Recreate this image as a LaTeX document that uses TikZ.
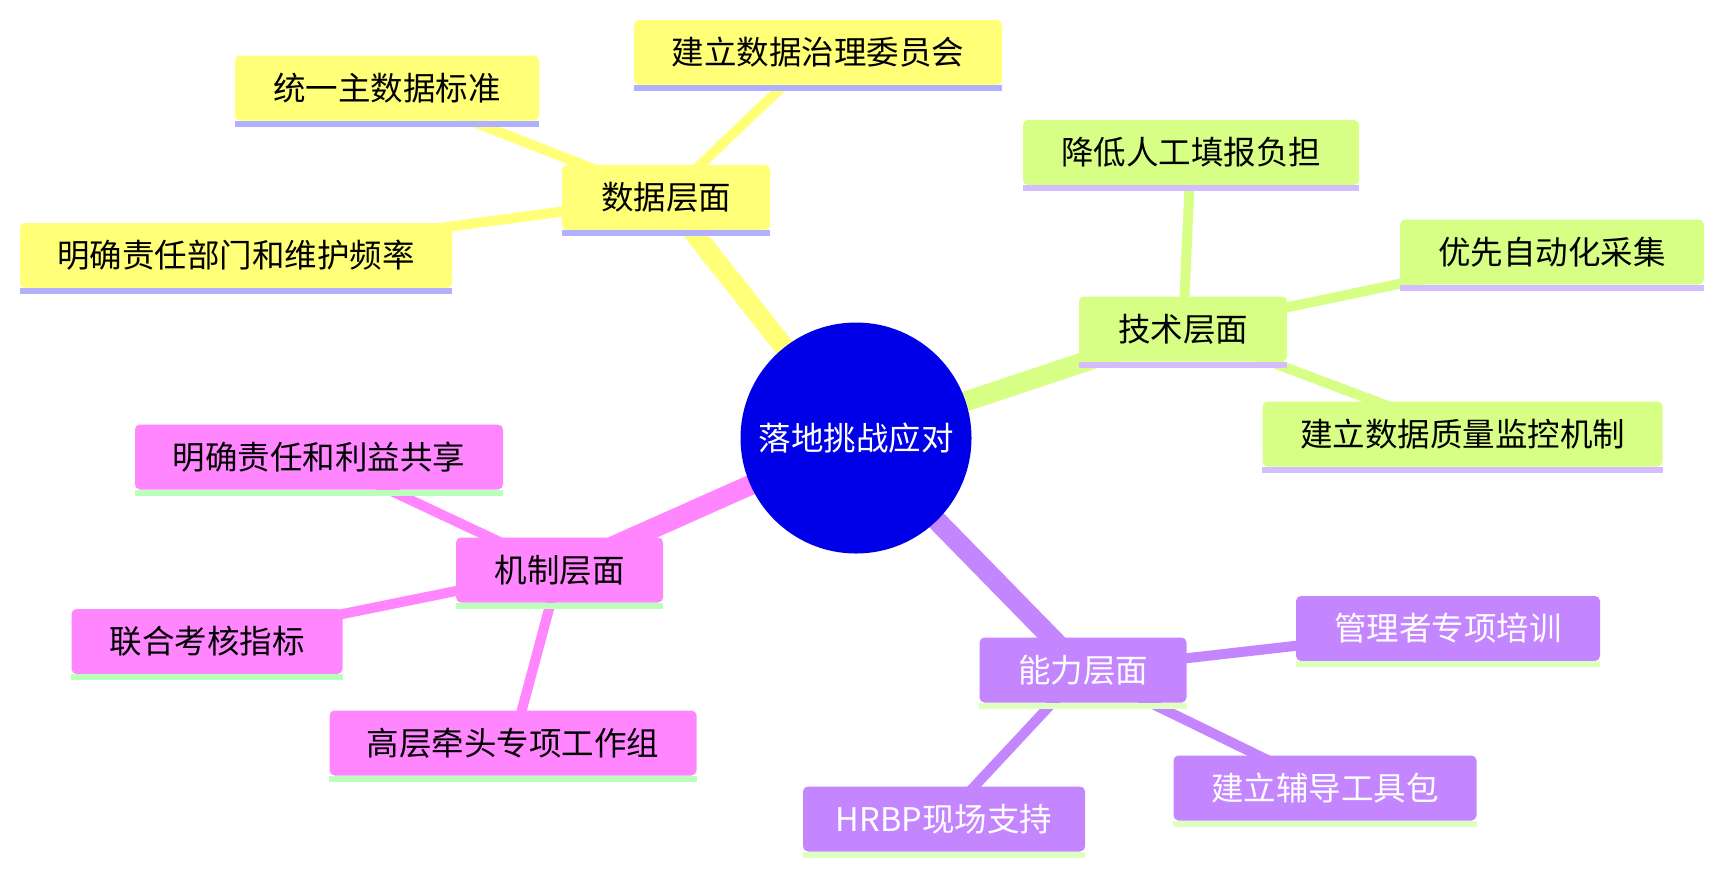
\documentclass[tikz,border=0pt]{standalone}
\usepackage{fontspec}
\newfontfamily\cjk{Noto Sans CJK SC}
\pgfdeclarelayer{bg}
\pgfsetlayers{bg,main}
\definecolor{rootblue}{RGB}{0,0,232}
\definecolor{ylw}{RGB}{255,255,120}
\definecolor{ylwS}{RGB}{176,176,255}
\definecolor{grn}{RGB}{215,255,134}
\definecolor{grnS}{RGB}{212,189,255}
\definecolor{pnk}{RGB}{255,134,255}
\definecolor{pnkS}{RGB}{186,255,186}
\definecolor{pur}{RGB}{195,134,255}
\definecolor{purS}{RGB}{222,255,190}
\tikzset{
  mmbox/.style={rectangle, rounded corners=5pt, minimum height=65pt, inner ysep=0pt, inner xsep=8pt,
    font=\cjk\fontsize{32.5pt}{36pt}\selectfont},
  rootnode/.style={circle, fill=rootblue, minimum size=231pt, inner sep=0pt, text=white,
    font=\cjk\fontsize{32.5pt}{36pt}\selectfont},
  ezero/.style={line width=20pt},
  eone/.style={line width=10pt},
}
\newcommand{\mnode}[8]{%
  \node[mmbox, fill=#5, text=#7, minimum width=#4pt] (#1) at (#2,#3) {#8};
  \fill[#6] (#1.south west) rectangle ([yshift=-6pt]#1.south east);
}
\begin{document}
\begin{tikzpicture}[x=1pt,y=-1pt]
\useasboundingbox (0,0) rectangle (1723,873);
\node[rootnode] (root) at (856,438) {落地挑战应对};
% yellow
\mnode{d0}{666}{197.5}{208}{ylw}{ylwS}{black}{数据层面}
\mnode{d1}{818}{52.5}{368}{ylw}{ylwS}{black}{建立数据治理委员会}
\mnode{d2}{387}{88}{304}{ylw}{ylwS}{black}{统一主数据标准}
\mnode{d3}{236}{255.5}{432}{ylw}{ylwS}{black}{明确责任部门和维护频率}
% green
\mnode{t0}{1183}{329}{208}{grn}{grnS}{black}{技术层面}
\mnode{t1}{1191}{152.5}{336}{grn}{grnS}{black}{降低人工填报负担}
\mnode{t2}{1552}{252}{304}{grn}{grnS}{black}{优先自动化采集}
\mnode{t3}{1462.5}{434}{400}{grn}{grnS}{black}{建立数据质量监控机制}
% pink
\mnode{m0}{559.5}{570}{207}{pnk}{pnkS}{black}{机制层面}
\mnode{m1}{319}{457}{368}{pnk}{pnkS}{black}{明确责任和利益共享}
\mnode{m2}{207}{641.5}{271}{pnk}{pnkS}{black}{联合考核指标}
\mnode{m3}{513}{743}{367}{pnk}{pnkS}{black}{高层牵头专项工作组}
% purple
\mnode{c0}{1083}{670}{207}{pur}{purS}{white}{能力层面}
\mnode{c1}{1448}{628.5}{304}{pur}{purS}{white}{管理者专项培训}
\mnode{c2}{1325}{788}{303}{pur}{purS}{white}{建立辅导工具包}
\mnode{c3}{944}{819}{282}{pur}{purS}{white}{HRBP现场支持}
\begin{pgfonlayer}{bg}
\draw[ezero, ylw] (root.center) -- (d0.center);
\draw[eone, ylw] (d0.center) -- (d1.center);
\draw[eone, ylw] (d0.center) -- (d2.center);
\draw[eone, ylw] (d0.center) -- (d3.center);
\draw[ezero, grn] (root.center) -- (t0.center);
\draw[eone, grn] (t0.center) -- (t1.center);
\draw[eone, grn] (t0.center) -- (t2.center);
\draw[eone, grn] (t0.center) -- (t3.center);
\draw[ezero, pnk] (root.center) -- (m0.center);
\draw[eone, pnk] (m0.center) -- (m1.center);
\draw[eone, pnk] (m0.center) -- (m2.center);
\draw[eone, pnk] (m0.center) -- (m3.center);
\draw[ezero, pur] (root.center) -- (c0.center);
\draw[eone, pur] (c0.center) -- (c1.center);
\draw[eone, pur] (c0.center) -- (c2.center);
\draw[eone, pur] (c0.center) -- (c3.center);
\end{pgfonlayer}
\end{tikzpicture}
\end{document}
